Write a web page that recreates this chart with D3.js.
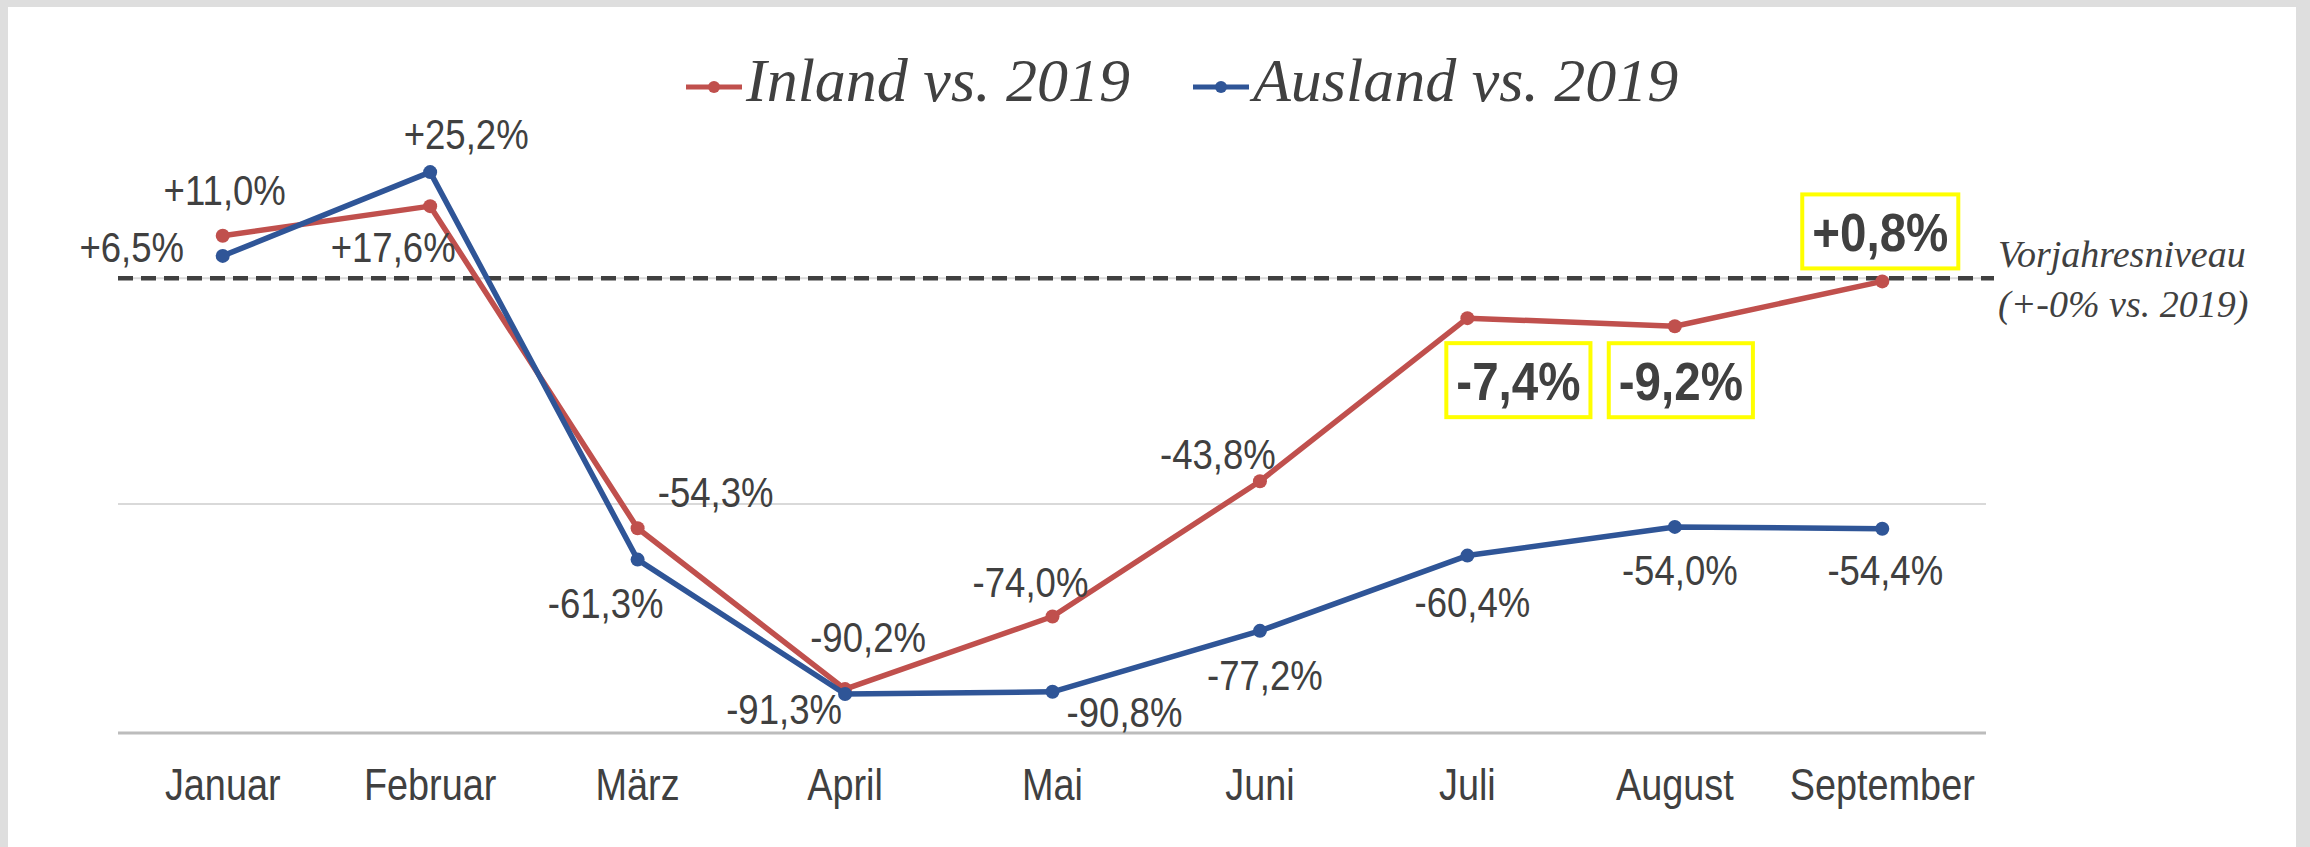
<!DOCTYPE html>
<html>
<head>
<meta charset="utf-8">
<script src="https://cdn.jsdelivr.net/npm/d3@7"></script>
<style>
    body { margin: 0; background: #dedede; }
    svg { display: block; }
</style>
</head>
<body>
<div id="chart"></div>
<script>
const months = ["Januar", "Februar", "März", "April", "Mai", "Juni", "Juli", "August", "September"];
const inland = [11.0, 17.6, -54.3, -90.2, -74.0, -43.8, -7.4, -9.2, 0.8];
const ausland = [6.5, 25.2, -61.3, -91.3, -90.8, -77.2, -60.4, -54.0, -54.4];
const seriesNames = ["Inland vs. 2019", "Ausland vs. 2019"];
// which inland labels get the yellow box
const boxed = [false, false, false, false, false, false, true, true, true];
// gridlines of the original do not sit on round values
const gridValues = [-48.9, 1.5];
const refValue = 1.5;
const refLabel = ["Vorjahresniveau", "(+-0% vs. 2019)"];

// label offsets (center of the label relative to its point)
const inlandOffsets = [[2, -46], [-37, 41], [78, -36], [23, -52], [-22, -35], [-42, -27], [51, 62], [6, 54], [-2, -50]];
const auslandOffsets = [[-91, -9], [36, -38], [-32, 43], [-61, 15], [72, 20], [5, 44], [5, 46], [5, 43], [3, 41]];

const width = 2310, height = 847;
const red = "#c0504d", blue = "#2f5597", textColor = "#404040";
// no narrow font installed, so text is squeezed horizontally
const sansFont = "'Liberation Sans', Arial, sans-serif";
const serifFont = "'Liberation Serif', 'DejaVu Serif', serif";
const squeeze = 0.87;

const svg = d3.select("#chart")
    .append("svg")
    .attr("width", width)
    .attr("height", height);

// white panel inside the grey frame
svg.append("rect")
    .attr("x", 8).attr("y", 7)
    .attr("width", 2288).attr("height", height - 7)
    .attr("fill", "#ffffff");

const x = d3.scalePoint().domain(months).range([119, 1986]).padding(0.5);
const y = d3.scaleLinear().domain([-100, 0]).range([733, 285]);

// gridlines
svg.append("g")
    .selectAll("line")
    .data(gridValues)
    .join("line")
    .attr("x1", 118).attr("x2", 1986)
    .attr("y1", d => y(d)).attr("y2", d => y(d))
    .attr("stroke", "#d9d9d9")
    .attr("stroke-width", 2);

// baseline
svg.append("line")
    .attr("x1", 118).attr("x2", 1986)
    .attr("y1", y(-100)).attr("y2", y(-100))
    .attr("stroke", "#bcbcbc")
    .attr("stroke-width", 3);

// reference dashed line
svg.append("line")
    .attr("x1", 118).attr("x2", 1994)
    .attr("y1", y(refValue)).attr("y2", y(refValue))
    .attr("stroke", textColor)
    .attr("stroke-width", 4.5)
    .attr("stroke-dasharray", "15 8");

svg.append("text")
    .attr("x", 1998)
    .attr("y", 267)
    .style("font-family", serifFont)
    .style("font-style", "italic")
    .style("font-size", "38px")
    .attr("fill", textColor)
    .selectAll("tspan")
    .data(refLabel)
    .join("tspan")
    .attr("x", 1998)
    .attr("dy", (d, i) => i === 0 ? 0 : 50)
    .text(d => d);

// month labels
svg.append("g")
    .selectAll("text")
    .data(months)
    .join("text")
    .attr("transform", d => "translate(" + x(d) + ",800) scale(0.86,1)")
    .attr("text-anchor", "middle")
    .style("font-family", sansFont)
    .style("font-size", "44px")
    .attr("fill", textColor)
    .text(d => d);

function fmt(v) {
    let s = Math.abs(v).toFixed(1).replace(".", ",") + "%";
    return (v >= 0 ? "+" : "-") + s;
}

function drawSeries(values, color) {
    const line = d3.line()
        .x((d, i) => x(months[i]))
        .y(d => y(d));

    svg.append("path")
        .datum(values)
        .attr("d", line)
        .attr("fill", "none")
        .attr("stroke", color)
        .attr("stroke-width", 5.5)
        .attr("stroke-linejoin", "round");

    svg.append("g")
        .selectAll("circle")
        .data(values)
        .join("circle")
        .attr("cx", (d, i) => x(months[i]))
        .attr("cy", d => y(d))
        .attr("r", 7)
        .attr("fill", color);
}

function drawLabels(values, offsets, boxes) {
    values.forEach((v, i) => {
        const cx = x(months[i]) + offsets[i][0];
        const cy = y(v) + offsets[i][1];
        const isBox = boxes && boxes[i];
        const sx = isBox ? 0.88 : squeeze;
        const g = svg.append("g");
        const t = g.append("text")
            .attr("transform", "translate(" + cx + "," + cy + ") scale(" + sx + ",1)")
            .attr("dy", "0.36em")
            .attr("text-anchor", "middle")
            .style("font-family", sansFont)
            .style("font-size", isBox ? "54px" : "42px")
            .style("font-weight", isBox ? "bold" : "normal")
            .attr("fill", textColor)
            .text(fmt(v));
        if (isBox) {
            const w = t.node().getBBox().width * sx;
            g.insert("rect", "text")
                .attr("x", cx - w / 2 - 10)
                .attr("y", cy - 37)
                .attr("width", w + 20)
                .attr("height", 74)
                .attr("fill", "#ffffff")
                .attr("stroke", "#ffff00")
                .attr("stroke-width", 4);
        }
    });
}

drawSeries(inland, red);
drawSeries(ausland, blue);
drawLabels(inland, inlandOffsets, boxed);
drawLabels(ausland, auslandOffsets, null);

// legend
const legend = [
    {name: seriesNames[0], color: red, x: 686},
    {name: seriesNames[1], color: blue, x: 1193}
];
const lg = svg.append("g")
    .selectAll("g")
    .data(legend)
    .join("g")
    .attr("transform", d => "translate(" + d.x + ",87)");
lg.append("line")
    .attr("x1", 0).attr("x2", 56)
    .attr("stroke", d => d.color)
    .attr("stroke-width", 5);
lg.append("circle")
    .attr("cx", 28)
    .attr("r", 6)
    .attr("fill", d => d.color);
lg.append("text")
    .attr("x", 60)
    .attr("y", 14)
    .style("font-family", serifFont)
    .style("font-style", "italic")
    .style("font-size", "62px")
    .attr("fill", textColor)
    .text(d => d.name);
</script>
</body>
</html>
